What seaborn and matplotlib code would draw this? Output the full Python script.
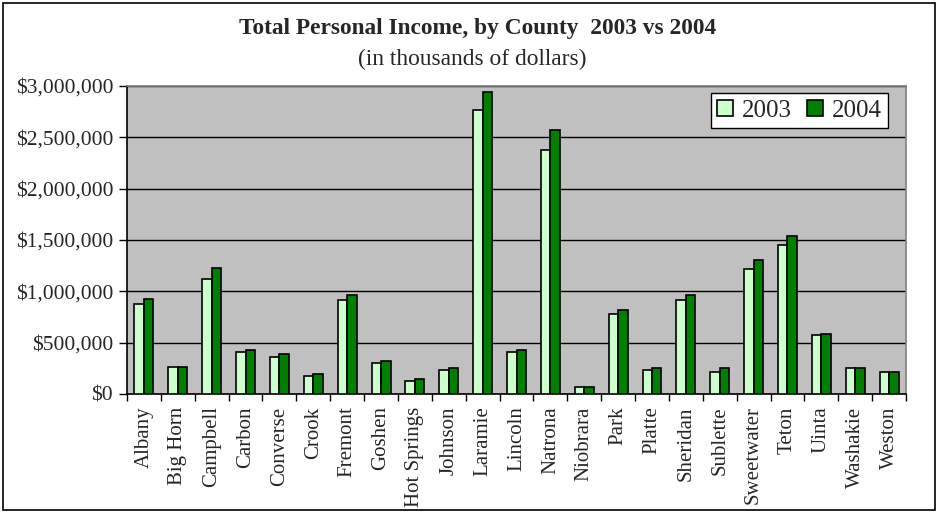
import pandas as pd
import numpy as np
import matplotlib
matplotlib.use("Agg")
import matplotlib.pyplot as plt
import matplotlib.ticker as mticker
import seaborn as sns
from matplotlib.patches import Rectangle

# Data (thousands of dollars)
counties = ["Albany", "Big Horn", "Campbell", "Carbon", "Converse", "Crook",
            "Fremont", "Goshen", "Hot Springs", "Johnson", "Laramie", "Lincoln",
            "Natrona", "Niobrara", "Park", "Platte", "Sheridan", "Sublette",
            "Sweetwater", "Teton", "Uinta", "Washakie", "Weston"]
income_2003 = [873000, 266000, 1123000, 409000, 357000, 179000,
               912000, 302000, 123000, 231000, 2766000, 409000,
               2373000, 71000, 782000, 231000, 912000, 214000,
               1214000, 1448000, 571000, 250000, 214000]
income_2004 = [929000, 266000, 1231000, 429000, 393000, 195000,
               964000, 321000, 143000, 250000, 2945000, 429000,
               2568000, 71000, 821000, 250000, 964000, 250000,
               1302000, 1539000, 588000, 250000, 214000]
years = ["2003", "2004"]
colors = ["#CCFFCC", "#008000"]

df = pd.DataFrame({
    "County": counties * 2,
    "Year": [years[0]] * len(counties) + [years[1]] * len(counties),
    "Income": income_2003 + income_2004,
})

sns.set_style("white")
plt.rcParams["font.family"] = ["Liberation Serif", "DejaVu Serif"]

fig = plt.figure(figsize=(9.38, 5.12), dpi=100)
ax = fig.add_axes([0.1354, 0.2305, 0.8305, 0.6016])

sns.barplot(data=df, x="County", y="Income", hue="Year", palette=colors,
            saturation=1, edgecolor="black", linewidth=1.2, width=0.56, gap=0,
            ax=ax, zorder=3)

ax.set_facecolor("#C0C0C0")
ax.set_xlim(-0.5, len(counties) - 0.5)
ax.set_ylim(0, 3000000)
ax.yaxis.set_major_locator(mticker.MultipleLocator(500000))
ax.yaxis.set_major_formatter(mticker.StrMethodFormatter("${x:,.0f}"))
ax.grid(axis="y", color="black", linewidth=1, zorder=1)
ax.set_axisbelow(True)

# category ticks sit between the groups, labels stay centred
ax.set_xticks(np.arange(len(counties)))
ax.set_xticklabels(counties, rotation=90, fontsize=15)
ax.set_xticks(np.arange(len(counties) + 1) - 0.5, minor=True)
ax.tick_params(axis="x", which="major", length=0, pad=9)
ax.tick_params(axis="x", which="minor", length=5, width=1, color="black",
               direction="out", bottom=True)
ax.tick_params(axis="y", length=6, width=1, color="black", direction="out",
               left=True, labelsize=15.5, pad=4)

ax.set_xlabel("")
ax.set_ylabel("")
for side in ["left", "bottom"]:
    ax.spines[side].set_color("black")
    ax.spines[side].set_linewidth(1.2)
for side in ["top", "right"]:
    ax.spines[side].set_color("#808080")
    ax.spines[side].set_linewidth(1.2)

leg = ax.legend(loc="upper right", bbox_to_anchor=(0.977, 0.976),
                fontsize=18, frameon=True, fancybox=False, ncol=2,
                handlelength=0.64, handleheight=0.64, handletextpad=0.36,
                columnspacing=0.6, borderpad=0.25, borderaxespad=0)
leg.get_frame().set_edgecolor("black")
leg.get_frame().set_facecolor("white")
leg.get_frame().set_linewidth(1)
leg.get_frame().set_alpha(1)

fig.text(0.509, 0.945, "Total Personal Income, by County  2003 vs 2004",
         ha="center", va="center", fontsize=16.8, fontweight="bold")
fig.text(0.503, 0.884, "(in thousands of dollars)", ha="center", va="center",
         fontsize=16.8)

# outer chart border
fig.patches.append(Rectangle((0.003, 0.004), 0.994, 0.99, transform=fig.transFigure,
                             fill=False, edgecolor="black", linewidth=1.2))

fig.savefig("out.png", dpi=100)
